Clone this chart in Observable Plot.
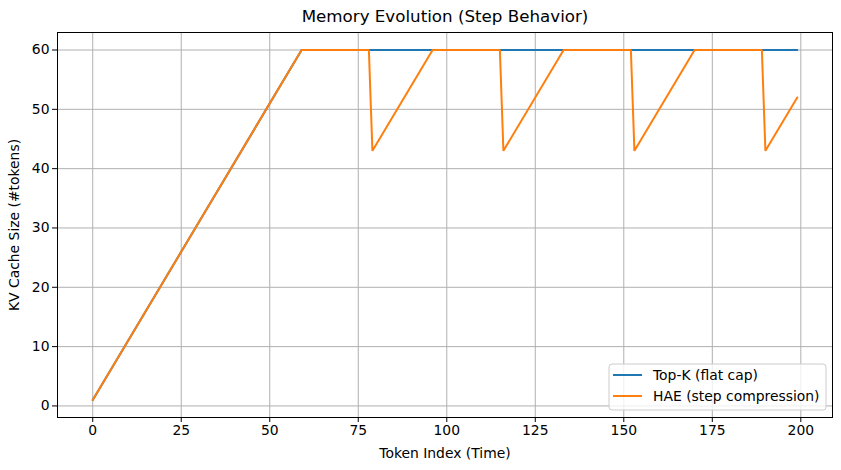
<!DOCTYPE html>
<html>
<head>
<meta charset="utf-8">
<script src="https://cdn.jsdelivr.net/npm/d3@7"></script>
<script src="https://cdn.jsdelivr.net/npm/@observablehq/plot@0.6"></script>
<style>
  html, body { margin: 0; padding: 0; background: #fff; }
  svg { font-family: "DejaVu Sans", sans-serif; }
</style>
</head>
<body>
<div id="chart"></div>
<script>
const title = "Memory Evolution (Step Behavior)";
const xLabel = "Token Index (Time)";
const yLabel = "KV Cache Size (#tokens)";
const seriesNames = ["Top-K (flat cap)", "HAE (step compression)"];
const seriesColors = ["#1f77b4", "#ff7f0e"];

// Vertices of each piecewise-linear series (token index, cache size)
const topkX = [0, 59, 199];
const topkY = [1, 60, 60];
const haeX = [0, 59, 78, 79, 96, 115, 116, 133, 152, 153, 170, 189, 190, 199];
const haeY = [1, 60, 60, 43, 60, 60, 43, 60, 60, 43, 60, 60, 43, 52];

const xTicks = [0, 25, 50, 75, 100, 125, 150, 175, 200];
const yTicks = [0, 10, 20, 30, 40, 50, 60];

const data = [
  ...topkX.map((x, i) => ({x, y: topkY[i], s: seriesNames[0]})),
  ...haeX.map((x, i) => ({x, y: haeY[i], s: seriesNames[1]}))
];

const W = 841, H = 470;
const mL = 57, mR = 9, mT = 32, mB = 53;

const plot = Plot.plot({
  width: W, height: H,
  marginLeft: mL, marginRight: mR, marginTop: mT, marginBottom: mB,
  style: {fontFamily: "DejaVu Sans, sans-serif", fontSize: "13.9px", color: "#000", background: "#fff"},
  x: {domain: [-9.95, 208.95]},
  y: {domain: [-1.95, 62.95]},
  color: {domain: seriesNames, range: seriesColors},
  marks: [
    Plot.gridX(xTicks, {stroke: "#b0b0b0", strokeOpacity: 1, strokeWidth: 1}),
    Plot.gridY(yTicks, {stroke: "#b0b0b0", strokeOpacity: 1, strokeWidth: 1}),
    Plot.line(data, {x: "x", y: "y", z: "s", stroke: "s", strokeWidth: 2, strokeLinejoin: "miter"}),
    Plot.frame({stroke: "#000", strokeWidth: 1}),
    Plot.axisX(xTicks, {tickSize: 5, tickPadding: 3, fontSize: 13.9, label: xLabel, labelAnchor: "center", labelArrow: "none", labelOffset: 40}),
    Plot.axisY(yTicks, {tickSize: 5, tickPadding: 3, fontSize: 13.9, label: yLabel, labelAnchor: "center", labelArrow: "none", labelOffset: 48}),
    Plot.text([title], {frameAnchor: "top", dy: -22, fontSize: 16.7, fill: "#000"})
  ]
});

document.getElementById("chart").appendChild(plot);

// Legend (lower right, matplotlib style)
const svg = d3.select(plot);
const lg = svg.append("g").attr("font-family", "DejaVu Sans, sans-serif").attr("font-size", 13.9).attr("text-anchor", "start");
const bx = 609, by = 364, bw = 217, bh = 46;
lg.append("rect").attr("x", bx).attr("y", by).attr("width", bw).attr("height", bh)
  .attr("rx", 3).attr("fill", "#fff").attr("fill-opacity", 0.8).attr("stroke", "#cccccc");
seriesNames.forEach((name, i) => {
  const cy = by + 11 + i * 21;
  lg.append("line").attr("x1", bx + 4).attr("x2", bx + 33).attr("y1", cy).attr("y2", cy)
    .attr("stroke", seriesColors[i]).attr("stroke-width", 2);
  lg.append("text").attr("x", bx + 44).attr("y", cy).attr("dy", "0.35em").attr("text-anchor", "start").attr("fill", "#000").text(name);
});
</script>
</body>
</html>
